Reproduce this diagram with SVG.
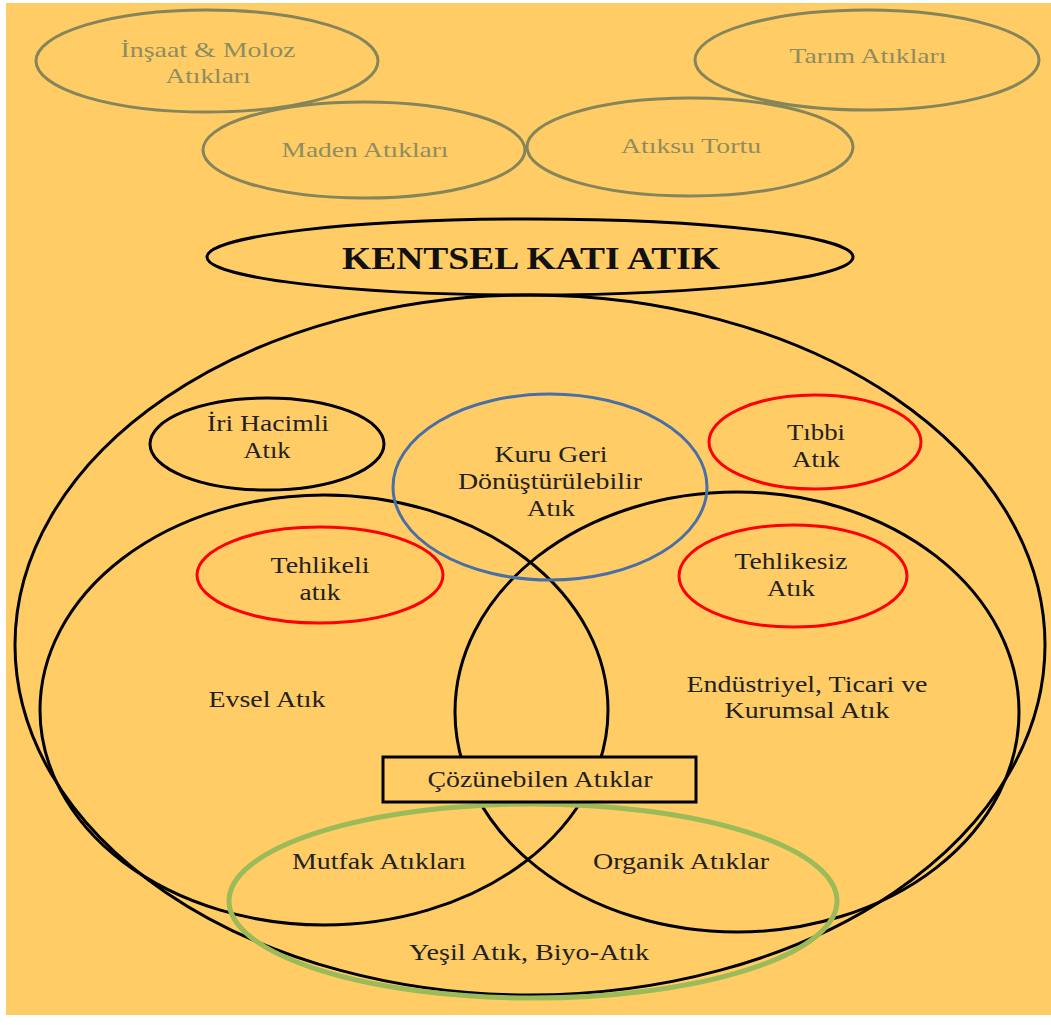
<svg xmlns="http://www.w3.org/2000/svg" width="1051" height="1025" viewBox="0 0 1051 1025">
<style>
.t{font-family:"Liberation Serif","Times New Roman",serif;font-size:23px;fill:#222;text-anchor:middle}
.g{font-family:"Liberation Serif","Times New Roman",serif;font-size:22px;fill:#8E8C60;text-anchor:middle}
.b{font-family:"Liberation Serif","Times New Roman",serif;font-size:31px;font-weight:bold;fill:#111;text-anchor:middle}
.ol{fill:none;stroke:#85855A;stroke-width:3}
.k{fill:none;stroke:#000;stroke-width:3}
.r{fill:none;stroke:#FF0000;stroke-width:3}
.bl{fill:none;stroke:#4A6FA5;stroke-width:3}
.gr{fill:none;stroke:#9BBB59;stroke-width:5}
</style>
<rect x="0" y="0" width="1051" height="1025" fill="#FFFFFF"/>
<rect x="6" y="3" width="1045" height="1012" fill="#FFCC66"/>

<g id="insaat"><ellipse class="ol" cx="207" cy="61" rx="171" ry="51"/>
<text class="g" x="208" y="57" textLength="175" lengthAdjust="spacingAndGlyphs">İnşaat &amp; Moloz</text>
<text class="g" x="208" y="83" textLength="85" lengthAdjust="spacingAndGlyphs">Atıkları</text></g>
<g id="tarim"><ellipse class="ol" cx="867" cy="60" rx="172" ry="50"/>
<text class="g" x="868" y="63" textLength="157" lengthAdjust="spacingAndGlyphs">Tarım Atıkları</text></g>
<g id="maden"><ellipse class="ol" cx="364" cy="150" rx="161" ry="48"/>
<text class="g" x="365" y="157" textLength="167" lengthAdjust="spacingAndGlyphs">Maden Atıkları</text></g>
<g id="atiksu"><ellipse class="ol" cx="690" cy="147" rx="163" ry="49"/>
<text class="g" x="691" y="153" textLength="140" lengthAdjust="spacingAndGlyphs">Atıksu Tortu</text></g>

<g id="kentsel"><ellipse class="k" cx="530" cy="257" rx="323" ry="38"/>
<text class="b" x="531" y="269" textLength="378" lengthAdjust="spacingAndGlyphs">KENTSEL KATI ATIK</text></g>

<g id="connectors"></g>

<g id="buyuk"><ellipse class="k" cx="530" cy="645" rx="515" ry="350"/></g>
<g id="evsel"><ellipse class="k" cx="324" cy="710" rx="284" ry="215"/>
<text class="t" x="267" y="707" textLength="117" lengthAdjust="spacingAndGlyphs">Evsel Atık</text></g>
<g id="endustriyel"><ellipse class="k" cx="737" cy="712" rx="282" ry="220"/>
<text class="t" x="807" y="692" textLength="241" lengthAdjust="spacingAndGlyphs">Endüstriyel, Ticari ve</text>
<text class="t" x="807" y="718" textLength="165" lengthAdjust="spacingAndGlyphs">Kurumsal Atık</text></g>

<g id="iri"><ellipse class="k" cx="267" cy="444" rx="117" ry="46"/>
<text class="t" x="268" y="431" textLength="122" lengthAdjust="spacingAndGlyphs">İri Hacimli</text>
<text class="t" x="267" y="458" textLength="47" lengthAdjust="spacingAndGlyphs">Atık</text></g>
<g id="kuru"><ellipse class="bl" cx="550" cy="487" rx="157" ry="93"/>
<text class="t" x="551" y="462" textLength="113" lengthAdjust="spacingAndGlyphs">Kuru Geri</text>
<text class="t" x="550" y="489" textLength="184" lengthAdjust="spacingAndGlyphs">Dönüştürülebilir</text>
<text class="t" x="551" y="516" textLength="48" lengthAdjust="spacingAndGlyphs">Atık</text></g>
<g id="tibbi"><ellipse class="r" cx="815" cy="442" rx="106" ry="47"/>
<text class="t" x="816" y="440" textLength="58" lengthAdjust="spacingAndGlyphs">Tıbbi</text>
<text class="t" x="816" y="467" textLength="48" lengthAdjust="spacingAndGlyphs">Atık</text></g>
<g id="tehlikeli"><ellipse class="r" cx="320" cy="575" rx="123" ry="48"/>
<text class="t" x="320" y="573" textLength="99" lengthAdjust="spacingAndGlyphs">Tehlikeli</text>
<text class="t" x="320" y="600" textLength="41" lengthAdjust="spacingAndGlyphs">atık</text></g>
<g id="tehlikesiz"><ellipse class="r" cx="793" cy="576" rx="114" ry="51"/>
<text class="t" x="791" y="569" textLength="113" lengthAdjust="spacingAndGlyphs">Tehlikesiz</text>
<text class="t" x="791" y="596" textLength="48" lengthAdjust="spacingAndGlyphs">Atık</text></g>

<g id="yesil"><ellipse class="gr" cx="533" cy="901" rx="304" ry="97"/>
<text class="t" x="379" y="869" textLength="174" lengthAdjust="spacingAndGlyphs">Mutfak Atıkları</text>
<text class="t" x="681" y="869" textLength="176" lengthAdjust="spacingAndGlyphs">Organik Atıklar</text>
<text class="t" x="529" y="960" textLength="240" lengthAdjust="spacingAndGlyphs">Yeşil Atık, Biyo-Atık</text></g>

<g id="cozunebilen"><rect x="383" y="757" width="313" height="45" fill="#FFCC66" stroke="#000" stroke-width="3"/>
<text class="t" x="540" y="787" textLength="225" lengthAdjust="spacingAndGlyphs">Çözünebilen Atıklar</text></g>
</svg>
